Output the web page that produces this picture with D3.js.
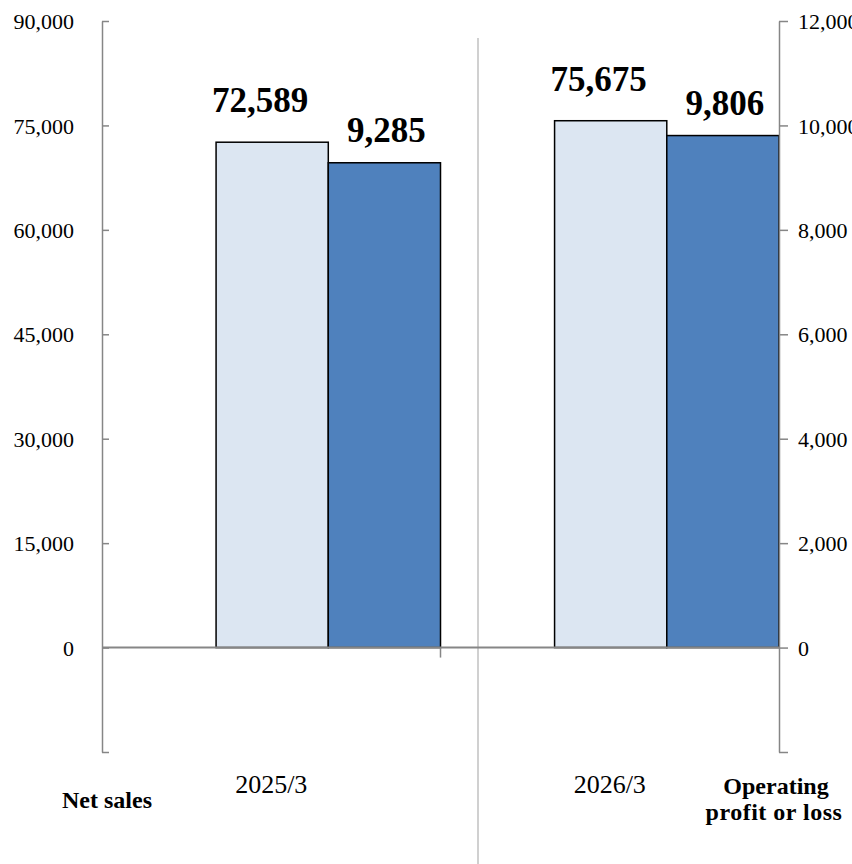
<!DOCTYPE html>
<html>
<head>
<meta charset="utf-8">
<script src="https://cdn.jsdelivr.net/npm/d3@7"></script>
<style>
    body { margin: 0; background: #fff; }
    svg { display: block; font-family: "Liberation Serif", "Times New Roman", serif; }
    .tick text { font-family: "Liberation Serif", "Times New Roman", serif; font-size: 22px; fill: #000; }
    .tick line, .domain { stroke: #868686; stroke-width: 1.5; }
</style>
</head>
<body>
<svg width="852" height="864"></svg>
<script>

var width = 852, height = 864;

// data
var periods = ["2025/3", "2026/3"];
var netSales = [72589, 75675];
var operatingProfit = [9285, 9806];
var leftTicks = [0, 15000, 30000, 45000, 60000, 75000, 90000];
var rightTicks = [0, 2000, 4000, 6000, 8000, 10000, 12000];

const colors = {
    sales: "#dce6f2",
    profit: "#4f81bd",
    axis: "#868686",
    divider: "#c0c0c0"
}

var plot = { left: 102, right: 779, top: 21, bottom: 752 };

// Scales
var x = d3.scaleBand()
    .domain(periods)
    .range([plot.left, plot.right])
    .padding(0);

var yLeft = d3.scaleLinear()
    .domain([-15000, 90000])
    .range([plot.bottom, plot.top]);

var yRight = d3.scaleLinear()
    .domain([-2000, 12000])
    .range([plot.bottom, plot.top]);

// bars sit in the right two thirds of each band
var inner = d3.scaleBand()
    .domain(["sales", "profit"])
    .range([x.bandwidth() * 0.337, x.bandwidth()]);

var svg = d3.select("svg");

// divider line between the years
svg.append("line")
    .attr("x1", 478).attr("x2", 478)
    .attr("y1", 38).attr("y2", height)
    .attr("stroke", colors.divider)
    .attr("stroke-width", 1.5);

var rows = periods.map(function (p, i) {
    return { period: p, sales: netSales[i], profit: operatingProfit[i] };
});

// net sales bars (left axis)
svg.append("g")
    .selectAll("rect")
    .data(rows)
    .enter()
    .append("rect")
    .attr("x", function (d) { return x(d.period) + inner("sales"); })
    .attr("width", inner.bandwidth())
    .attr("y", function (d) { return yLeft(d.sales); })
    .attr("height", function (d) { return yLeft(0) - yLeft(d.sales); })
    .attr("fill", colors.sales)
    .attr("stroke", "#000")
    .attr("stroke-width", 1.5);

// operating profit bars (right axis)
svg.append("g")
    .selectAll("rect")
    .data(rows)
    .enter()
    .append("rect")
    .attr("x", function (d) { return x(d.period) + inner("profit"); })
    .attr("width", inner.bandwidth())
    .attr("y", function (d) { return yRight(d.profit); })
    .attr("height", function (d) { return yRight(0) - yRight(d.profit); })
    .attr("fill", colors.profit)
    .attr("stroke", "#000")
    .attr("stroke-width", 1.5);

// left axis
var leftAxis = svg.append("g")
    .attr("transform", "translate(" + plot.left + ",0)")
    .call(d3.axisRight(yLeft)
        .tickValues(leftTicks.concat([-15000]))
        .tickSize(7)
        .tickSizeOuter(0)
        .tickFormat(function (d) { return d < 0 ? "" : d3.format(",")(d); }));
leftAxis.attr("font-family", null).attr("font-size", null);
leftAxis.selectAll("text")
    .attr("x", -28)
    .attr("text-anchor", "end")
    .attr("dy", "0.35em");

// right axis
var rightAxis = svg.append("g")
    .attr("transform", "translate(" + plot.right + ",0)")
    .call(d3.axisRight(yRight)
        .tickValues(rightTicks.concat([-2000]))
        .tickSize(9)
        .tickSizeOuter(0)
        .tickFormat(function (d) { return d < 0 ? "" : d3.format(",")(d); }));
rightAxis.attr("font-family", null).attr("font-size", null);
rightAxis.selectAll("text")
    .attr("x", 19)
    .attr("dy", "0.35em");

// zero baseline + category boundary tick
svg.append("line")
    .attr("x1", plot.left).attr("x2", plot.right)
    .attr("y1", yLeft(0)).attr("y2", yLeft(0))
    .attr("stroke", colors.axis)
    .attr("stroke-width", 2);

svg.append("line")
    .attr("x1", x(periods[1]) ).attr("x2", x(periods[1]))
    .attr("y1", yLeft(0)).attr("y2", yLeft(0) + 10)
    .attr("stroke", colors.axis)
    .attr("stroke-width", 1.5);

// category labels
svg.append("g")
    .selectAll("text")
    .data(periods)
    .enter()
    .append("text")
    .attr("x", function (d) { return x(d) + x.bandwidth() / 2; })
    .attr("y", 793)
    .attr("text-anchor", "middle")
    .style("font-size", "26px")
    .text(function (d) { return d; });

// data labels
svg.append("g")
    .selectAll("text")
    .data(rows)
    .enter()
    .append("text")
    .attr("x", function (d) { return x(d.period) + inner("sales") + inner.bandwidth() / 2 - 12; })
    .attr("y", function (d) { return yLeft(d.sales) - 30; })
    .attr("text-anchor", "middle")
    .style("font-size", "35px")
    .style("font-weight", "bold")
    .text(function (d) { return d3.format(",")(d.sales); });

svg.append("g")
    .selectAll("text")
    .data(rows)
    .enter()
    .append("text")
    .attr("x", function (d) { return x(d.period) + inner("profit") + inner.bandwidth() / 2 + 2; })
    .attr("y", function (d) { return yRight(d.profit) - 21; })
    .attr("text-anchor", "middle")
    .style("font-size", "35px")
    .style("font-weight", "bold")
    .text(function (d) { return d3.format(",")(d.profit); });

// series names
svg.append("text")
    .attr("x", 107).attr("y", 808)
    .attr("text-anchor", "middle")
    .style("font-size", "24px")
    .style("font-weight", "bold")
    .text("Net sales");

var opLabel = svg.append("text")
    .attr("text-anchor", "middle")
    .style("font-size", "24px")
    .style("font-weight", "bold");
opLabel.append("tspan").attr("x", 776).attr("y", 794).text("Operating");
opLabel.append("tspan").attr("x", 774).attr("y", 820).attr("letter-spacing", "0.5px").text("profit or loss");

</script>
</body>
</html>
